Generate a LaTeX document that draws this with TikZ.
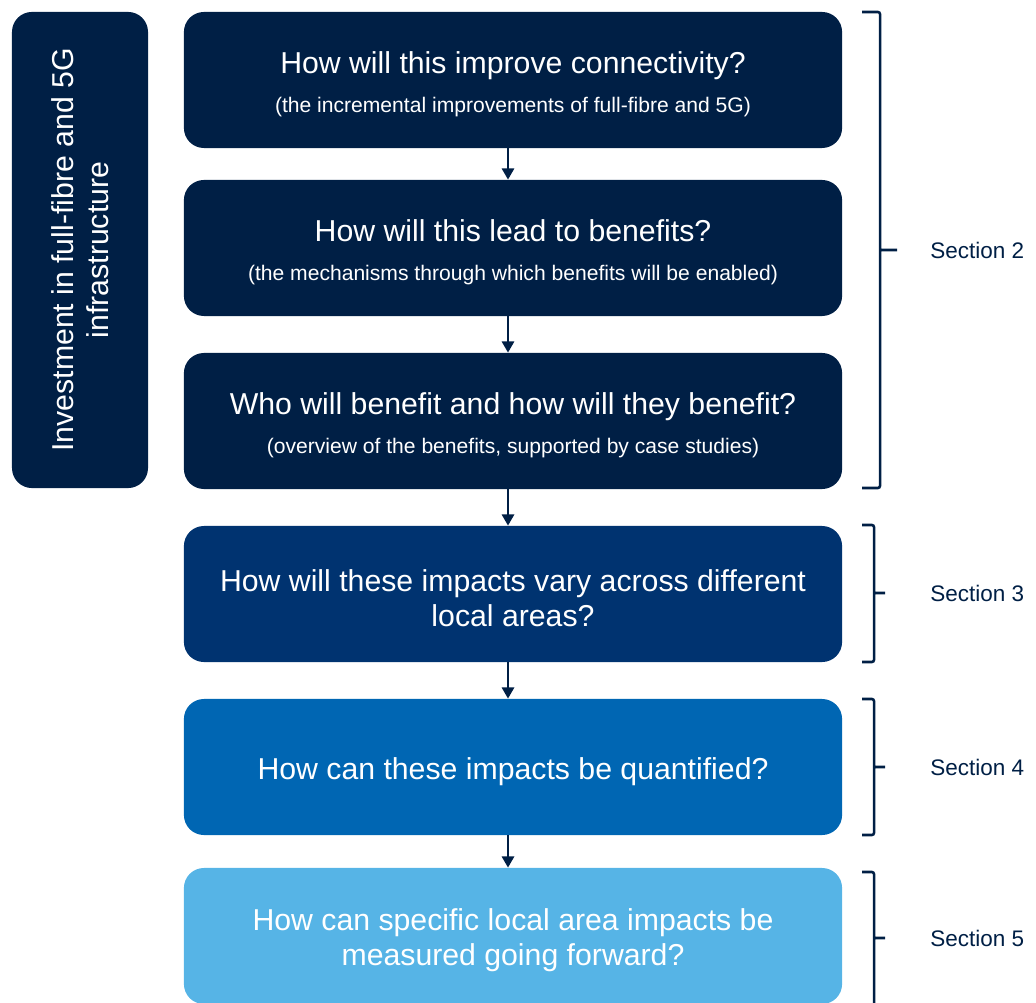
\documentclass[tikz,border=0pt]{standalone}
\usepackage{fontspec}
\setmainfont{Liberation Sans}
\usetikzlibrary{arrows.meta}
\definecolor{navy}{RGB}{0,31,69}
\definecolor{deepblue}{RGB}{0,51,112}
\definecolor{midblue}{RGB}{0,102,179}
\definecolor{skyblue}{RGB}{86,180,230}
\newcommand{\subq}[1]{{\fontsize{15}{18}\selectfont #1}}
\newcommand{\qs}{\rule{0pt}{22pt}}
\begin{document}
\begin{tikzpicture}[x=0.025cm,y=-0.025cm,
	qbox/.style={rounded corners=0.5cm,minimum width=16.45cm,minimum height=3.4cm,
		inner sep=0pt,text=white,align=center,font=\fontsize{21.5}{25}\selectfont},
	arr/.style={navy,line width=2pt,-{Triangle[length=8pt,width=8.5pt]}},
	brk/.style={navy,line width=1.8pt,rounded corners=1.5pt},
	sec/.style={anchor=west,inner sep=0pt,text=navy,font=\fontsize{16}{19}\selectfont}]
	\useasboundingbox (0,0) rectangle (1036,1003);
	\clip (0,0) rectangle (1036,1003);
	\path (508,0) coordinate (ax);
	% left box
	\node[qbox,fill=navy,rotate=90,minimum width=11.9cm,minimum height=3.4cm] (inv) at (80,250)
	{Investment in full-fibre and 5G\\infrastructure};
	% question boxes
	\node[qbox,fill=navy] (q1) at (513,80)
	{\qs How will this improve connectivity?\\[2.7pt]\subq{(the incremental improvements of full-fibre and 5G)}};
	\node[qbox,fill=navy] (q2) at (513,248)
	{\qs How will this lead to benefits?\\[2.7pt]\subq{(the mechanisms through which benefits will be enabled)}};
	\node[qbox,fill=navy] (q3) at (513,421)
	{\qs Who will benefit and how will they benefit?\\[2.7pt]\subq{(overview of the benefits, supported by case studies)}};
	\node[qbox,fill=deepblue] (q4) at (513,594)
	{\qs How will these impacts vary across different\\local areas?};
	\node[qbox,fill=midblue] (q5) at (513,767) {\qs How can these impacts be quantified?};
	\node[qbox,fill=skyblue] (q6) at (513,936)
	{\qs How can specific local area impacts be\\measured going forward?};
	\foreach \a/\b in {q1/q2,q2/q3,q3/q4,q4/q5,q5/q6}
	\draw[arr] (\a.south -| ax) -- (\b.north -| ax);
	% brackets
	\foreach \t/\b/\m/\w/\n in {12/488/250/18/2,525/662/593/12/3,699/835/767/12/4,872/1020/938/12/5}{
		\draw[brk] (862,\t) -- (862+\w,\t) -- (862+\w,\b) -- (862,\b)
		(862+\w,\m) -- ++(\w-1,0);
		\node[sec] (s\n) at (930,\m) {Section \n};
	}
\end{tikzpicture}
\end{document}
